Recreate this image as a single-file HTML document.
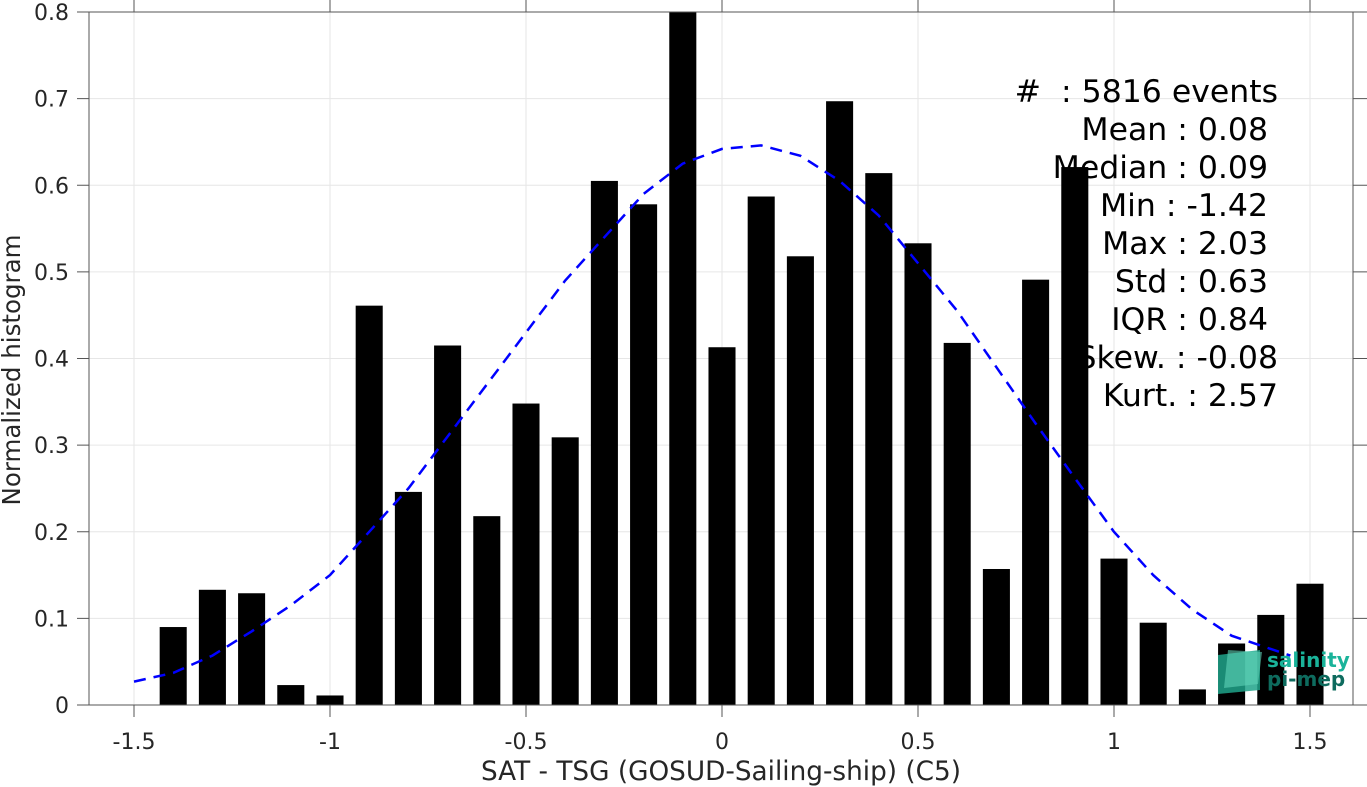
<!DOCTYPE html>
<html><head><meta charset="utf-8"><style>
html,body{margin:0;padding:0;background:#fff;}
svg{display:block;font-family:"DejaVu Sans","Liberation Sans",sans-serif;}
</style></head><body>
<svg id="chart" width="1367" height="787" viewBox="0 0 1367 787" xmlns="http://www.w3.org/2000/svg">
<g id="grid"></g>
<g id="stats" font-size="31.5" fill="#000" text-anchor="end"></g>
<g id="bars"></g>
<path id="fit" fill="none" stroke="#0000ff" stroke-width="2.5" stroke-dasharray="12,8"/>
<g id="axes"></g>
<g>
<polygon points="1218,655 1260,650 1260,690 1218,694" fill="#1fa38a" opacity="0.85"/>
<polygon points="1228,650 1262,652 1258,684 1224,688" fill="#5fd3b8" opacity="0.6"/>
<text x="1267" y="667" font-size="20" font-weight="bold" fill="#1ab39a">salinity</text>
<text x="1267" y="686" font-size="20" font-weight="bold" fill="#0e6b5e">pi-mep</text>
</g>
<text x="721" y="780" font-size="26.3" text-anchor="middle" fill="#262626">SAT - TSG (GOSUD-Sailing-ship) (C5)</text>
<text transform="translate(20,370) rotate(-90)" font-size="24.5" text-anchor="middle" fill="#262626">Normalized histogram</text>
</svg>
<script>
const categories=[-1.4,-1.3,-1.2,-1.1,-1.0,-0.9,-0.8,-0.7,-0.6,-0.5,-0.4,-0.3,-0.2,-0.1,0.0,0.1,0.2,0.3,0.4,0.5,0.6,0.7,0.8,0.9,1.0,1.1,1.2,1.3,1.4,1.5];
const barValues=[0.09,0.133,0.129,0.023,0.011,0.461,0.246,0.415,0.218,0.348,0.309,0.605,0.578,0.80,0.413,0.587,0.518,0.697,0.614,0.533,0.418,0.157,0.491,0.621,0.169,0.095,0.018,0.071,0.104,0.140];
const fitX=[-1.5,-1.4,-1.3,-1.2,-1.1,-1.0,-0.9,-0.8,-0.7,-0.6,-0.5,-0.4,-0.3,-0.2,-0.1,0.0,0.1,0.2,0.3,0.4,0.5,0.6,0.7,0.8,0.9,1.0,1.1,1.2,1.3,1.45];
const fitY=[0.027,0.037,0.057,0.085,0.115,0.15,0.2,0.25,0.31,0.37,0.43,0.49,0.54,0.59,0.625,0.642,0.646,0.634,0.605,0.565,0.51,0.455,0.39,0.325,0.262,0.2,0.15,0.11,0.08,0.057];
const xTicks=[-1.5,-1,-0.5,0,0.5,1,1.5];
const xTickLabels=["-1.5","-1","-0.5","0","0.5","1","1.5"];
const yTicks=[0,0.1,0.2,0.3,0.4,0.5,0.6,0.7,0.8];
const yTickLabels=["0","0.1","0.2","0.3","0.4","0.5","0.6","0.7","0.8"];
const statsLabels=["#\u00a0\u00a0: 5816 events","Mean : 0.08","Median : 0.09","Min : -1.42","Max : 2.03","Std : 0.63","IQR : 0.84","Skew. : -0.08","Kurt. : 2.57"];

const L=89,R=1353,T=12,B=705;
const xs=v=>722+v*392;
const ys=v=>B-v*(B-T)/0.8;
const NS="http://www.w3.org/2000/svg";
function mk(tag,parent,attrs){const e=document.createElementNS(NS,tag);for(const k in attrs)e.setAttribute(k,attrs[k]);parent.appendChild(e);return e;}
const grid=document.getElementById('grid'),axes=document.getElementById('axes'),bars=document.getElementById('bars'),stats=document.getElementById('stats');
xTicks.forEach((t,i)=>{
 const g=mk('line',grid,{x1:xs(t),x2:xs(t),y1:T,y2:B,stroke:'#e6e6e6','stroke-width':1});
 
 
 const tk=mk('line',axes,{x1:xs(t),x2:xs(t),y1:B,y2:B+12,stroke:'#555','stroke-width':1});
 
 
 const tk2=mk('line',axes,{x1:xs(t),x2:xs(t),y1:T,y2:T-12,stroke:'#555','stroke-width':1});
 
 
 const lb=mk('text',axes,{x:xs(t),y:B+44,'font-size':22,'text-anchor':'middle',fill:'#262626'});
 lb.textContent=xTickLabels[i];
 
 
});
yTicks.forEach((t,i)=>{
 const g=mk('line',grid,{x1:L,x2:R,y1:ys(t),y2:ys(t),stroke:'#e6e6e6','stroke-width':1});
 
 
 const tk=mk('line',axes,{x1:L-12,x2:L,y1:ys(t),y2:ys(t),stroke:'#555','stroke-width':1});
 
 
 const tk2=mk('line',axes,{x1:R,x2:R+14,y1:ys(t),y2:ys(t),stroke:'#555','stroke-width':1});
 
 
 const lb=mk('text',axes,{x:L-20,y:ys(t)+8,'font-size':22,'text-anchor':'end',fill:'#262626'});
 lb.textContent=yTickLabels[i];
 
 
});
const box=mk('rect',axes,{x:L,y:T,width:R-L,height:B-T,fill:'none',stroke:'#555','stroke-width':1});


const anchors=[1278,1268,1268,1268,1268,1268,1268,1278,1278];
statsLabels.forEach((s,i)=>{
 const t=mk('text',stats,{x:anchors[i],y:102+i*38});
 t.textContent=s;
 
 
});
const bw=0.069*392;
categories.forEach((c,i)=>{
 const v=Math.min(barValues[i],0.8);
 const r=mk('rect',bars,{x:xs(c)-bw/2,y:ys(v),width:bw,height:B-ys(v),fill:'#000'});
 
 
});
document.getElementById('fit').setAttribute('d',fitX.map((x,i)=>(i?'L':'M')+xs(x).toFixed(1)+','+ys(fitY[i]).toFixed(1)).join(' '));
</script>
</body></html>
